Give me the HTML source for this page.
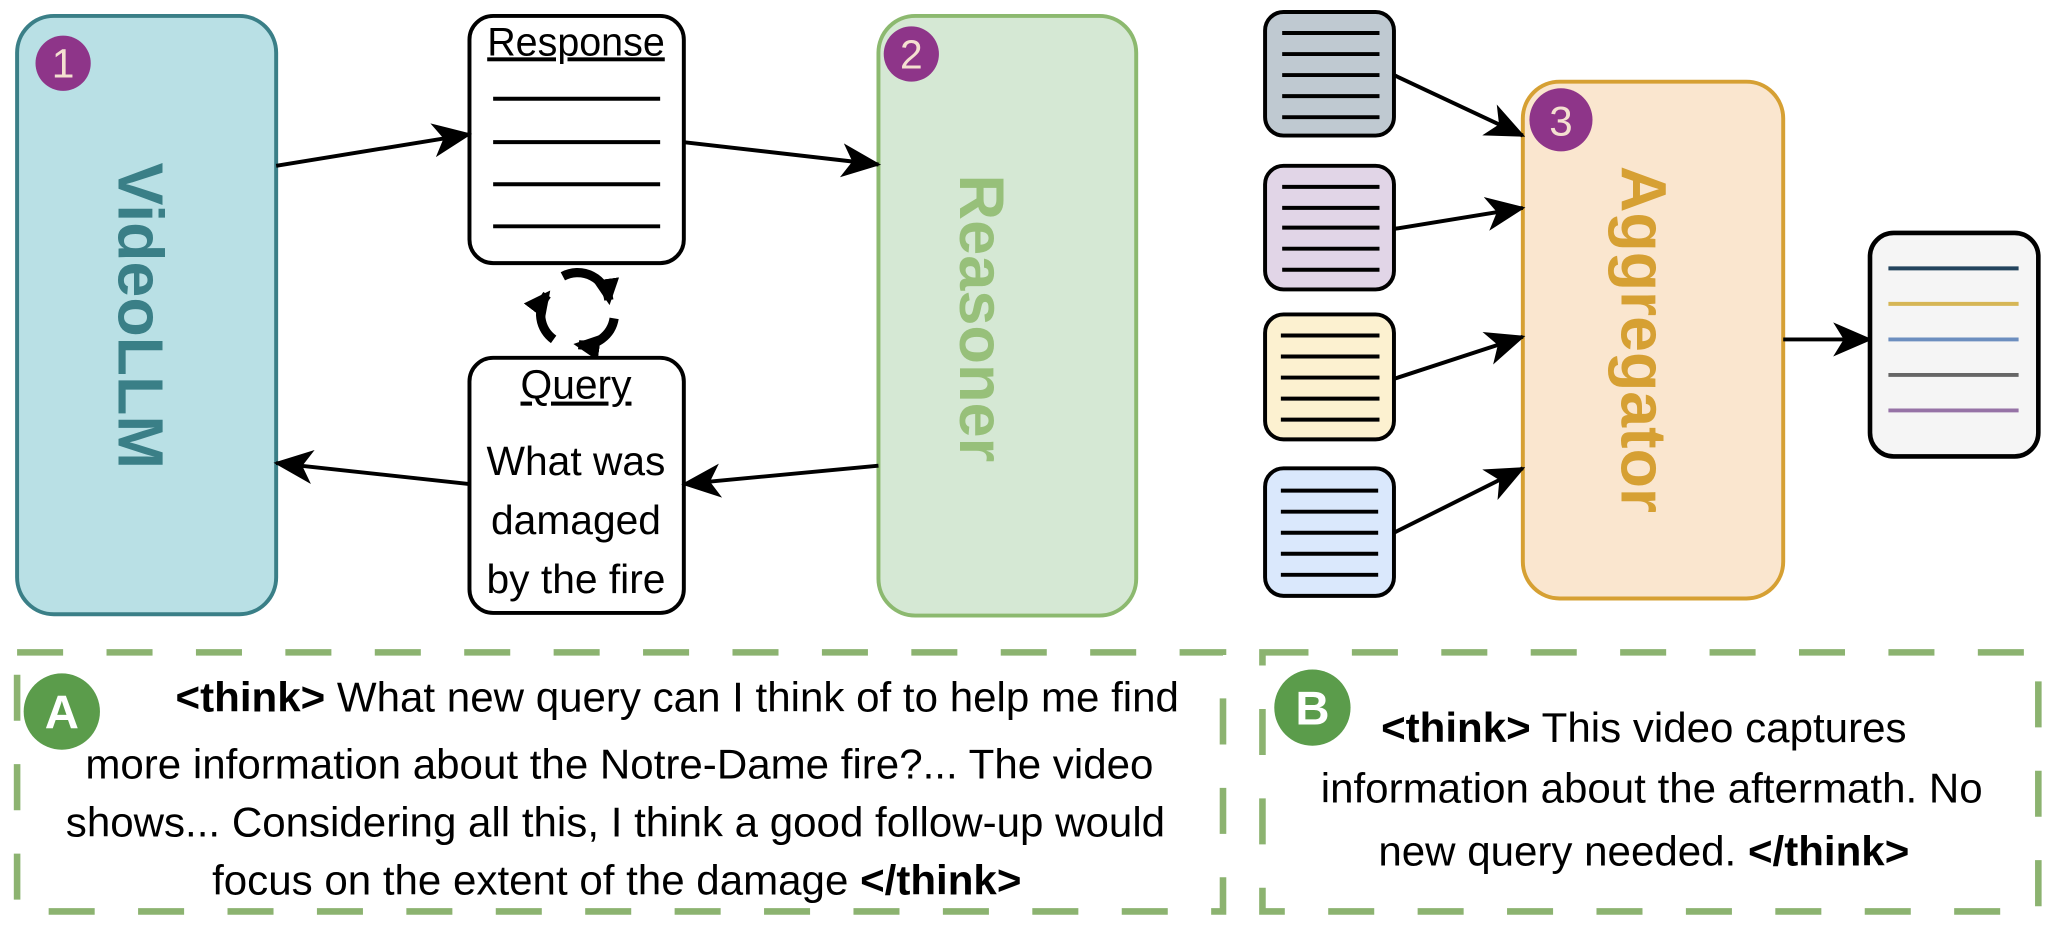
<!DOCTYPE html>
<html><head><meta charset="utf-8"><style>
html,body{margin:0;padding:0;background:#fff;}
svg{display:block;}
text{font-family:"Liberation Sans",Arial,sans-serif;}
</style></head><body>
<svg width="2062" height="930" viewBox="0 0 1568 707" xmlns="http://www.w3.org/2000/svg">
<defs>
<marker id="ab" markerWidth="30" markerHeight="30" refX="28" refY="15" orient="auto" markerUnits="userSpaceOnUse" viewBox="0 0 30 30">
<path d="M0,2 L30,15 L0,28 L8,15 z" fill="#000"/>
</marker>
<marker id="as" markerWidth="20" markerHeight="20" refX="16" refY="10" orient="auto" markerUnits="userSpaceOnUse" viewBox="0 0 20 20">
<path d="M0,0 L20,10 L0,20 z" fill="#000"/>
</marker>
</defs>

<!-- VideoLLM -->
<rect x="13" y="12" width="197" height="455" rx="28" fill="#b9e0e5" stroke="#3a7f87" stroke-width="3"/>
<circle cx="48" cy="48" r="21" fill="#8e3589"/>
<text x="48" y="59" font-size="31" fill="#f4e0d0" text-anchor="middle">1</text>
<text transform="translate(90,240) rotate(90)" font-size="49" font-weight="bold" fill="#3a7f87" text-anchor="middle">VideoLLM</text>

<!-- Response -->
<rect x="357" y="12" width="163" height="188" rx="18" fill="#fff" stroke="#000" stroke-width="3"/>
<text x="438" y="42" font-size="30" text-anchor="middle" text-decoration="underline">Response</text>
<g stroke="#000" stroke-width="3">
<line x1="375" y1="75" x2="502" y2="75"/><line x1="375" y1="108" x2="502" y2="108"/>
<line x1="375" y1="140" x2="502" y2="140"/><line x1="375" y1="172" x2="502" y2="172"/>
</g>

<!-- cycle -->
<g fill="none" stroke="#000" stroke-width="7">
<path d="M421,258 A24,24 0 0 1 416,224" marker-end="url(#as)"/>
<path d="M428,210 A24,24 0 0 1 463,228" marker-end="url(#as)"/>
<path d="M467,242 A24,24 0 0 1 440,262" marker-end="url(#as)"/>
</g>

<!-- Query -->
<rect x="357" y="272" width="163" height="194" rx="18" fill="#fff" stroke="#000" stroke-width="3"/>
<text x="438" y="303" font-size="31" text-anchor="middle" text-decoration="underline">Query</text>
<text x="438" y="361" font-size="31" text-anchor="middle">What was</text>
<text x="438" y="406" font-size="31" text-anchor="middle">damaged</text>
<text x="438" y="451" font-size="31" text-anchor="middle">by the fire</text>

<!-- Reasoner -->
<rect x="668" y="12" width="196" height="456" rx="28" fill="#d5e8d4" stroke="#8cb96f" stroke-width="3"/>
<circle cx="693" cy="41" r="21" fill="#8e3589"/>
<text x="693" y="52" font-size="31" fill="#f4e0d0" text-anchor="middle">2</text>
<text transform="translate(730,242) rotate(90)" font-size="48" font-weight="bold" fill="#97c07a" text-anchor="middle">Reasoner</text>

<!-- main arrows -->
<g stroke="#000" stroke-width="3" fill="none">
<line x1="210" y1="126" x2="357" y2="102" marker-end="url(#ab)"/>
<line x1="520" y1="108" x2="668" y2="125" marker-end="url(#ab)"/>
<line x1="668" y1="354" x2="520" y2="368" marker-end="url(#ab)"/>
<line x1="357" y1="368" x2="210" y2="352" marker-end="url(#ab)"/>
</g>

<!-- small doc boxes -->
<g stroke="#000" stroke-width="3">
<rect x="962" y="9" width="98" height="94" rx="14" fill="#bfc9d1"/>
<rect x="962" y="126" width="98" height="94" rx="14" fill="#e1d5e7"/>
<rect x="962" y="239" width="98" height="95" rx="14" fill="#fcf1d0"/>
<rect x="962" y="356" width="98" height="97" rx="14" fill="#dae8fc"/>
</g>
<g stroke="#000" stroke-width="3">
<line x1="975" y1="25" x2="1049" y2="25"/><line x1="975" y1="41" x2="1049" y2="41"/><line x1="975" y1="57" x2="1049" y2="57"/><line x1="975" y1="73" x2="1049" y2="73"/><line x1="975" y1="89" x2="1049" y2="89"/>
<line x1="975" y1="142" x2="1049" y2="142"/><line x1="975" y1="158" x2="1049" y2="158"/><line x1="975" y1="173" x2="1049" y2="173"/><line x1="975" y1="189" x2="1049" y2="189"/><line x1="975" y1="205" x2="1049" y2="205"/>
<line x1="974" y1="255" x2="1049" y2="255"/><line x1="974" y1="271" x2="1049" y2="271"/><line x1="974" y1="287" x2="1049" y2="287"/><line x1="974" y1="303" x2="1049" y2="303"/><line x1="974" y1="319" x2="1049" y2="319"/>
<line x1="974" y1="373" x2="1048" y2="373"/><line x1="974" y1="389" x2="1048" y2="389"/><line x1="974" y1="405" x2="1048" y2="405"/><line x1="974" y1="421" x2="1048" y2="421"/><line x1="974" y1="437" x2="1048" y2="437"/>
</g>

<!-- Aggregator -->
<rect x="1158" y="62" width="198" height="393" rx="28" fill="#fae6cf" stroke="#d6a033" stroke-width="3"/>
<circle cx="1187" cy="91" r="24" fill="#8e3589"/>
<text x="1187" y="103" font-size="32" fill="#f4e0d0" text-anchor="middle">3</text>
<text transform="translate(1233,258) rotate(90)" font-size="49" font-weight="bold" fill="#d6a033" text-anchor="middle">Aggregator</text>

<g stroke="#000" stroke-width="3" fill="none">
<line x1="1060" y1="57" x2="1158" y2="103" marker-end="url(#ab)"/>
<line x1="1060" y1="174" x2="1158" y2="158" marker-end="url(#ab)"/>
<line x1="1060" y1="288" x2="1158" y2="256" marker-end="url(#ab)"/>
<line x1="1060" y1="405" x2="1158" y2="356" marker-end="url(#ab)"/>
<line x1="1356" y1="258" x2="1422" y2="258" marker-end="url(#ab)"/>
</g>

<!-- output -->
<rect x="1422" y="177" width="128" height="170" rx="18" fill="#f5f5f5" stroke="#000" stroke-width="3.5"/>
<g stroke-width="3">
<line x1="1436" y1="204" x2="1535" y2="204" stroke="#23445d"/>
<line x1="1436" y1="231" x2="1535" y2="231" stroke="#d6b656"/>
<line x1="1436" y1="258" x2="1535" y2="258" stroke="#6c8ebf"/>
<line x1="1436" y1="285" x2="1535" y2="285" stroke="#666"/>
<line x1="1436" y1="312" x2="1535" y2="312" stroke="#9673a6"/>
</g>

<!-- dashed boxes -->
<rect x="13" y="496" width="917" height="197" fill="none" stroke="#8cb370" stroke-width="5" stroke-dasharray="35 33"/>
<rect x="960" y="496" width="590" height="197" fill="none" stroke="#8cb370" stroke-width="5" stroke-dasharray="35 33"/>

<circle cx="47" cy="541" r="29" fill="#5b9c4b"/>
<text x="47" y="554" font-size="36" font-weight="bold" fill="#fff" text-anchor="middle">A</text>
<g font-size="32" text-anchor="middle">
<text x="515" y="541"><tspan font-weight="bold">&lt;think&gt;</tspan> What new query can I think of to help me find</text>
<text x="471" y="592">more information about the Notre-Dame fire?... The video</text>
<text x="468" y="636">shows... Considering all this, I think a good follow-up would</text>
<text x="469" y="680">focus on the extent of the damage <tspan font-weight="bold">&lt;/think&gt;</tspan></text>
</g>

<circle cx="998" cy="538" r="29" fill="#5b9c4b"/>
<text x="998" y="551" font-size="36" font-weight="bold" fill="#fff" text-anchor="middle">B</text>
<g font-size="32" text-anchor="middle">
<text x="1250" y="564"><tspan font-weight="bold">&lt;think&gt;</tspan> This video captures</text>
<text x="1256" y="610">information about the aftermath. No</text>
<text x="1250" y="658">new query needed. <tspan font-weight="bold">&lt;/think&gt;</tspan></text>
</g>
</svg>
</body></html>
